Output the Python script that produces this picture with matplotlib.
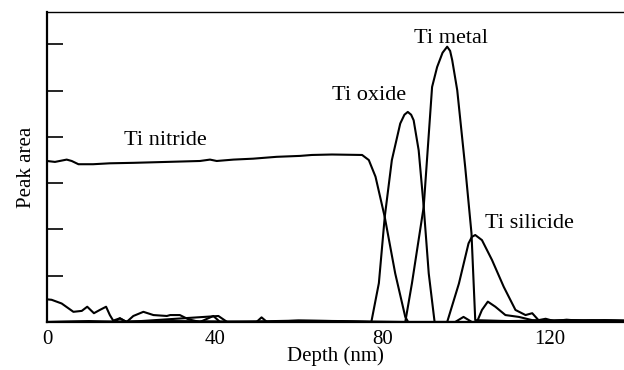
import numpy as np
import matplotlib
matplotlib.use("Agg")
import matplotlib.pyplot as plt

plt.rcParams['font.family'] = ['Liberation Serif', 'DejaVu Serif']

# depth (nm) / peak area (arb.)
nitride_x = [0, 1.9, 4.7, 5.9, 7.5, 11, 15, 20.6, 28.6, 36.5, 38.9, 40.5, 44.5, 49.2,
             54.8, 60.4, 63.2, 68, 75.2, 76.8, 78.4, 80.6, 83.1, 85.5, 86.2, 97.4,
             99.4, 101.4, 112, 125, 138]
nitride_y = [3.48, 3.46, 3.51, 3.48, 3.41, 3.41, 3.43, 3.44, 3.46, 3.48, 3.51, 3.48, 3.51, 3.53,
             3.57, 3.59, 3.61, 3.62, 3.61, 3.50, 3.14, 2.27, 1.05, 0.11, 0.0, 0.0,
             0.11, 0.0, 0.02, 0.0, 0.02]

oxide_x = [0, 1.1, 3.5, 6.3, 8.3, 9.6, 11.2, 12.6, 14.1, 15, 15.8, 17.4, 19, 20.6, 23,
           25.4, 28.6, 29.4, 31.7, 33.7, 36.5, 39.7, 41.3, 50, 51.2, 52.5, 60, 70, 77.4,
           79.2, 80.6, 82.3, 84.3, 85.3, 86.1, 86.9, 87.5, 88.7, 89.9, 91.1, 92.5, 102.6,
           103.8, 105.2, 107, 109.4, 112.6, 115.8, 120, 130, 138]
oxide_y = [0.49, 0.48, 0.40, 0.22, 0.24, 0.33, 0.19, 0.26, 0.33, 0.15, 0.03, 0.08, 0.0, 0.13, 0.22,
           0.15, 0.13, 0.15, 0.15, 0.06, 0.0, 0.13, 0.0, 0.0, 0.1, 0.0, 0.03, 0.02, 0.0,
           0.84, 2.27, 3.5, 4.29, 4.48, 4.54, 4.48, 4.36, 3.71, 2.49, 1.05, 0.0, 0.0,
           0.26, 0.44, 0.33, 0.15, 0.11, 0.04, 0.03, 0.04, 0.03]

metal_x = [0, 10, 16, 17.4, 19, 40.9, 43, 60, 85.5, 87.1, 89.9, 91.9, 93.1, 94.4, 95.5,
           96.2, 96.7, 97.9, 99.8, 101.3, 102.2, 110, 125, 138]
metal_y = [0.0, 0.02, 0.0, 0.08, 0.0, 0.13, 0.0, 0.03, 0.0, 0.84, 2.49, 5.08, 5.51, 5.82, 5.95,
           5.86, 5.66, 5.01, 3.35, 1.92, 0.04, 0.02, 0.04, 0.02]

silicide_x = [0, 30, 60, 95.5, 98.3, 100.6, 101.4, 102.2, 103.8, 106.2, 109, 111.8, 114.2,
              115.8, 117.3, 119, 121, 124, 128, 133, 138]
silicide_y = [0.0, 0.02, 0.0, 0.0, 0.83, 1.7, 1.84, 1.88, 1.77, 1.34, 0.76, 0.26, 0.15,
              0.19, 0.04, 0.07, 0.02, 0.05, 0.02, 0.04, 0.03]

labels = ['Ti nitride', 'Ti oxide', 'Ti metal', 'Ti silicide']
label_x = [28.3, 76.8, 96.4, 115.2]
label_y = [3.82, 4.79, 6.03, 2.03]

fig = plt.figure(figsize=(6.24, 3.7), dpi=100)
ax = fig.add_axes([47 / 624, 48 / 370, 1 - 47 / 624, 310 / 370])

for xs, ys in [(nitride_x, nitride_y), (oxide_x, oxide_y),
               (metal_x, metal_y), (silicide_x, silicide_y)]:
    ax.plot(xs, ys, color='black', lw=1.5)

for lab, lx, ly in zip(labels, label_x, label_y):
    ax.text(lx, ly, lab, ha='center', va='baseline', fontsize=16)

ax.set_xlim(0, 137.7)
ax.set_ylim(0, 6.7)
ax.set_xticks([0, 40, 80, 120])
ax.set_yticks([1, 2, 3, 4, 5, 6])
ax.tick_params(axis='x', length=0, labelsize=15, pad=6)
ax.tick_params(axis='y', direction='in', length=11.5, width=1.2, labelleft=False)
ax.set_xlabel('Depth (nm)', fontsize=15, labelpad=-2)
ax.set_ylabel('Peak area', fontsize=15, labelpad=8)

ax.spines['right'].set_visible(False)
ax.spines['left'].set_linewidth(1.6)
ax.spines['bottom'].set_linewidth(1.6)
ax.spines['top'].set_linewidth(1.0)

fig.savefig('out.png', dpi=100)
